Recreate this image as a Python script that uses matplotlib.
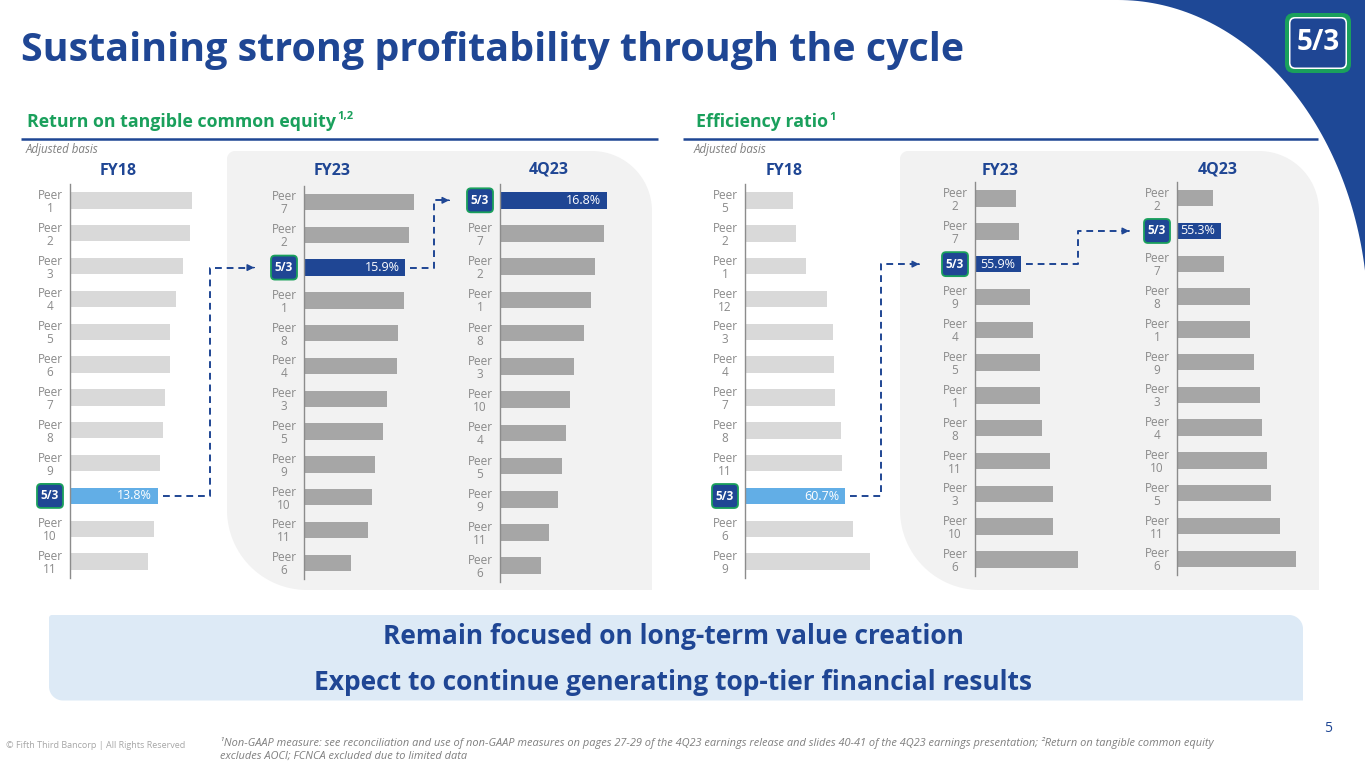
import matplotlib
matplotlib.use("Agg")
import matplotlib.pyplot as plt
import numpy as np
from matplotlib.patches import Polygon, FancyBboxPatch

plt.rcParams["font.family"] = ["Open Sans", "DejaVu Sans"]

W, H = 1365, 768
BLUE = "#1F4694"
GREEN = "#1AA05C"
GRAY_TXT = "#8A8A8A"
FITB = "Fifth Third"

# --- data ---
rotce_fy18_names = ["Peer 1", "Peer 2", "Peer 3", "Peer 4", "Peer 5", "Peer 6",
                    "Peer 7", "Peer 8", "Peer 9", FITB, "Peer 10", "Peer 11"]
rotce_fy18_vals = [19.2, 18.9, 17.8, 16.7, 15.7, 15.7, 15.0, 14.7, 14.1, 13.8, 13.2, 12.3]

rotce_fy23_names = ["Peer 7", "Peer 2", FITB, "Peer 1", "Peer 8", "Peer 4",
                    "Peer 3", "Peer 5", "Peer 9", "Peer 10", "Peer 11", "Peer 6"]
rotce_fy23_vals = [17.4, 16.6, 15.9, 15.8, 14.8, 14.7, 13.1, 12.5, 11.2, 10.7, 10.0, 7.4]

rotce_4q23_names = [FITB, "Peer 7", "Peer 2", "Peer 1", "Peer 8", "Peer 3",
                    "Peer 10", "Peer 4", "Peer 5", "Peer 9", "Peer 11", "Peer 6"]
rotce_4q23_vals = [16.8, 16.3, 14.9, 14.3, 13.2, 11.7, 11.0, 10.4, 9.7, 9.2, 7.7, 6.4]

eff_fy18_names = ["Peer 5", "Peer 2", "Peer 1", "Peer 12", "Peer 3", "Peer 4",
                  "Peer 7", "Peer 8", "Peer 11", FITB, "Peer 6", "Peer 9"]
eff_fy18_vals = [51.7, 52.1, 53.9, 57.6, 58.6, 58.7, 59.0, 60.0, 60.2, 60.7, 62.0, 65.1]

eff_fy23_names = ["Peer 2", "Peer 7", FITB, "Peer 9", "Peer 4", "Peer 5",
                  "Peer 1", "Peer 8", "Peer 11", "Peer 3", "Peer 10", "Peer 6"]
eff_fy23_vals = [54.6, 55.3, 55.9, 58.4, 59.0, 61.1, 61.1, 61.6, 63.8, 64.5, 64.6, 71.3]

eff_4q23_names = ["Peer 2", FITB, "Peer 7", "Peer 8", "Peer 1", "Peer 9",
                  "Peer 3", "Peer 4", "Peer 10", "Peer 5", "Peer 11", "Peer 6"]
eff_4q23_vals = [53.2, 55.3, 56.1, 63.1, 63.2, 64.4, 66.0, 66.4, 67.8, 68.9, 71.4, 75.7]


def rounded_poly(x0, y0, x1, y1, r_tl, r_tr, r_br, r_bl, n=30):
    def arc(cx, cy, r, a0, a1):
        t = np.radians(np.linspace(a0, a1, n))
        return list(zip(cx + r * np.cos(t), cy + r * np.sin(t)))
    pts = []
    pts += arc(x0 + r_tl, y0 + r_tl, r_tl, 180, 270)
    pts += arc(x1 - r_tr, y0 + r_tr, r_tr, 270, 360)
    pts += arc(x1 - r_br, y1 - r_br, r_br, 0, 90)
    pts += arc(x0 + r_bl, y1 - r_bl, r_bl, 90, 180)
    return pts


fig = plt.figure(figsize=(W / 100, H / 100), dpi=100)
bg = fig.add_axes([0, 0, 1, 1], zorder=0)
bg.set_xlim(0, W)
bg.set_ylim(H, 0)
bg.axis("off")
fg = fig.add_axes([0, 0, 1, 1], zorder=5)
fg.set_xlim(0, W)
fg.set_ylim(H, 0)
fg.axis("off")
fg.patch.set_alpha(0)

# top-right swoosh
t = np.radians(np.linspace(90, 0, 80))
swoosh = list(zip(1118 + 250 * np.cos(t), 320 - 320 * np.sin(t)))
swoosh += [(W + 2, 320), (W + 2, -2), (1118, -2)]
bg.add_patch(Polygon(swoosh, closed=True, fc="#1E4896", ec="none"))

# grey panels behind FY23 / 4Q23
for x0, x1 in [(227, 652), (900, 1319)]:
    bg.add_patch(Polygon(rounded_poly(x0, 151, x1, 590, 8, 60, 0, 80),
                         closed=True, fc="#F2F2F2", ec="none"))

# bottom message box
bg.add_patch(Polygon(rounded_poly(49, 615, 1303, 700.5, 3, 14, 0, 14),
                     closed=True, fc="#DDEAF6", ec="none"))


def logo(ax, cx, cy, w, h, fs, big=False):
    if big:
        ax.add_patch(FancyBboxPatch((cx - w / 2, cy - h / 2), w, h,
                                    boxstyle="round,pad=0,rounding_size=9", fc=GREEN, ec="none"))
        ax.add_patch(FancyBboxPatch((cx - w / 2 + 4, cy - h / 2 + 4), w - 8, h - 8,
                                    boxstyle="round,pad=0,rounding_size=6", fc="white", ec="none"))
        ax.add_patch(FancyBboxPatch((cx - w / 2 + 5.5, cy - h / 2 + 5.5), w - 11, h - 11,
                                    boxstyle="round,pad=0,rounding_size=5", fc=BLUE, ec="none"))
    else:
        ax.add_patch(FancyBboxPatch((cx - w / 2, cy - h / 2), w, h,
                                    boxstyle="round,pad=0,rounding_size=4", fc=BLUE, ec=GREEN, lw=1.3))
    ax.text(cx, cy, "5/3", color="white", fontsize=fs, fontweight="bold",
            ha="center", va="center")


logo(fg, 1318, 43, 66, 60, 20, big=True)


def to_px(ax, x, y):
    dx, dy = ax.transData.transform((x, y))
    return dx, H - dy


def bar_panel(px_left, px_top, px_bottom, names, vals, base, scale, peer_c, fitb_c):
    width_px = 150
    ax = fig.add_axes([px_left / W, (H - px_bottom) / H, width_px / W, (px_bottom - px_top) / H],
                      zorder=2)
    ax.patch.set_alpha(0)
    rows = np.arange(len(names))
    colors = [fitb_c if n == FITB else peer_c for n in names]
    ax.barh(rows, [v - base for v in vals], left=base, height=0.5, color=colors)
    ax.set_xlim(base, base + width_px / scale)
    ax.set_ylim(len(names) - 0.5, -0.5)
    for s in ["top", "right", "bottom"]:
        ax.spines[s].set_visible(False)
    ax.spines["left"].set_color("#8C8C8C")
    ax.spines["left"].set_linewidth(1.0)
    ax.set_xticks([])
    ax.set_yticks(rows)
    ax.set_yticklabels(["" if n == FITB else n.replace(" ", "\n") for n in names],
                       ha="center", fontsize=8.5, color=GRAY_TXT, linespacing=1.0)
    ax.tick_params(axis="y", length=0, pad=14.4)
    i = names.index(FITB)
    ax.annotate(f"{vals[i]:.1f}%", xy=(vals[i], i), xytext=(-4, 0), textcoords="offset points",
                ha="right", va="center", color="white", fontsize=9)
    lx, ly = to_px(ax, base, i)
    logo(fg, lx - 20, ly, 26, 24, 8.5)
    return ax, i


LIGHT, DARK = "#D9D9D9", "#A6A6A6"
FITB_LIGHT = "#62AEE6"
ROTCE_SCALE = 6.35  # px per percentage point

panels = [
    (70, 184, 578, rotce_fy18_names, rotce_fy18_vals, 0, ROTCE_SCALE, LIGHT, FITB_LIGHT),
    (304, 185.6, 579.1, rotce_fy23_names, rotce_fy23_vals, 0, ROTCE_SCALE, DARK, BLUE),
    (500, 183.7, 582.3, rotce_4q23_names, rotce_4q23_vals, 0, ROTCE_SCALE, DARK, BLUE),
    (745, 184.1, 578.1, eff_fy18_names, eff_fy18_vals, 43.3, 5.75, LIGHT, FITB_LIGHT),
    (975, 182.1, 575.9, eff_fy23_names, eff_fy23_vals, 43.3, 3.67, DARK, BLUE),
    (1177, 181.8, 575.2, eff_4q23_names, eff_4q23_vals, 43.3, 3.67, DARK, BLUE),
]
axes = [bar_panel(*p) for p in panels]


def connector(src, dst, elbow_x, tip_x):
    (sax, si), (dax, di) = src, dst
    x0, y0 = to_px(sax, sax.patches[si].get_x() + sax.patches[si].get_width(), si)
    x0 += 5
    _, y1 = to_px(dax, dax.get_xlim()[0], di)
    fg.plot([x0, elbow_x, elbow_x, tip_x - 5], [y0, y0, y1, y1], color=BLUE, lw=1.4,
            ls=(0, (3.5, 2.5)))
    fg.annotate("", xy=(tip_x, y1), xytext=(tip_x - 6, y1),
                arrowprops=dict(arrowstyle="-|>", color=BLUE, lw=1, mutation_scale=10))


connector(axes[0], axes[1], 210, 257)
connector(axes[1], axes[2], 434, 452)
connector(axes[3], axes[4], 881, 922)
connector(axes[4], axes[5], 1078, 1132)

# column headers
for x, y, s in [(118.6, 171, "FY18"), (332, 171, "FY23"), (548.4, 169.5, "4Q23"),
                (784, 171, "FY18"), (999.7, 171, "FY23"), (1218, 169.5, "4Q23")]:
    fg.text(x, y, s, color=BLUE, fontsize=11.5, fontweight="bold", ha="center", va="center")

# titles and section headings
fg.text(21, 50, "Sustaining strong profitability through the cycle", color=BLUE,
        fontsize=28.4, fontweight="bold", ha="left", va="center")

fig.canvas.draw()
renderer = fig.canvas.get_renderer()
for x, s, sup in [(27, "Return on tangible common equity", "1,2"), (696, "Efficiency ratio", "1")]:
    t1 = fg.text(x, 122, s, color=GREEN, fontsize=12.8, fontweight="bold", ha="left", va="center")
    bb = t1.get_window_extent(renderer)
    fg.text(bb.x1 + 1, 117, sup, color=GREEN, fontsize=8, fontweight="bold",
            ha="left", va="center")

for x0, x1 in [(21, 658), (683, 1318)]:
    fg.plot([x0, x1], [139, 139], color=BLUE, lw=1.8, solid_capstyle="butt")
for x in [26, 694]:
    fg.text(x, 150, "Adjusted basis", color="#7F7F7F", fontsize=8.3, fontstyle="italic",
            ha="left", va="center")

fg.text(673, 636, "Remain focused on long-term value creation", color=BLUE, fontsize=19,
        fontweight="bold", ha="center", va="center")
fg.text(673, 683, "Expect to continue generating top-tier financial results", color=BLUE,
        fontsize=19, fontweight="bold", ha="center", va="center")

fg.text(220, 743, "¹Non-GAAP measure: see reconciliation and use of non-GAAP measures on pages 27-29 "
        "of the 4Q23 earnings release and slides 40-41 of the 4Q23 earnings presentation; "
        "²Return on tangible common equity", color="#7F7F7F", fontsize=7.9, fontstyle="italic",
        ha="left", va="center")
fg.text(220, 756, "excludes AOCI; FCNCA excluded due to limited data", color="#7F7F7F",
        fontsize=7.9, fontstyle="italic", ha="left", va="center")
fg.text(6, 746, "© Fifth Third Bancorp | All Rights Reserved", color="#A6A6A6", fontsize=6.5,
        ha="left", va="center")
fg.text(1328, 729, "5", color=BLUE, fontsize=10, ha="center", va="center")

fig.savefig("out.png", dpi=100)
